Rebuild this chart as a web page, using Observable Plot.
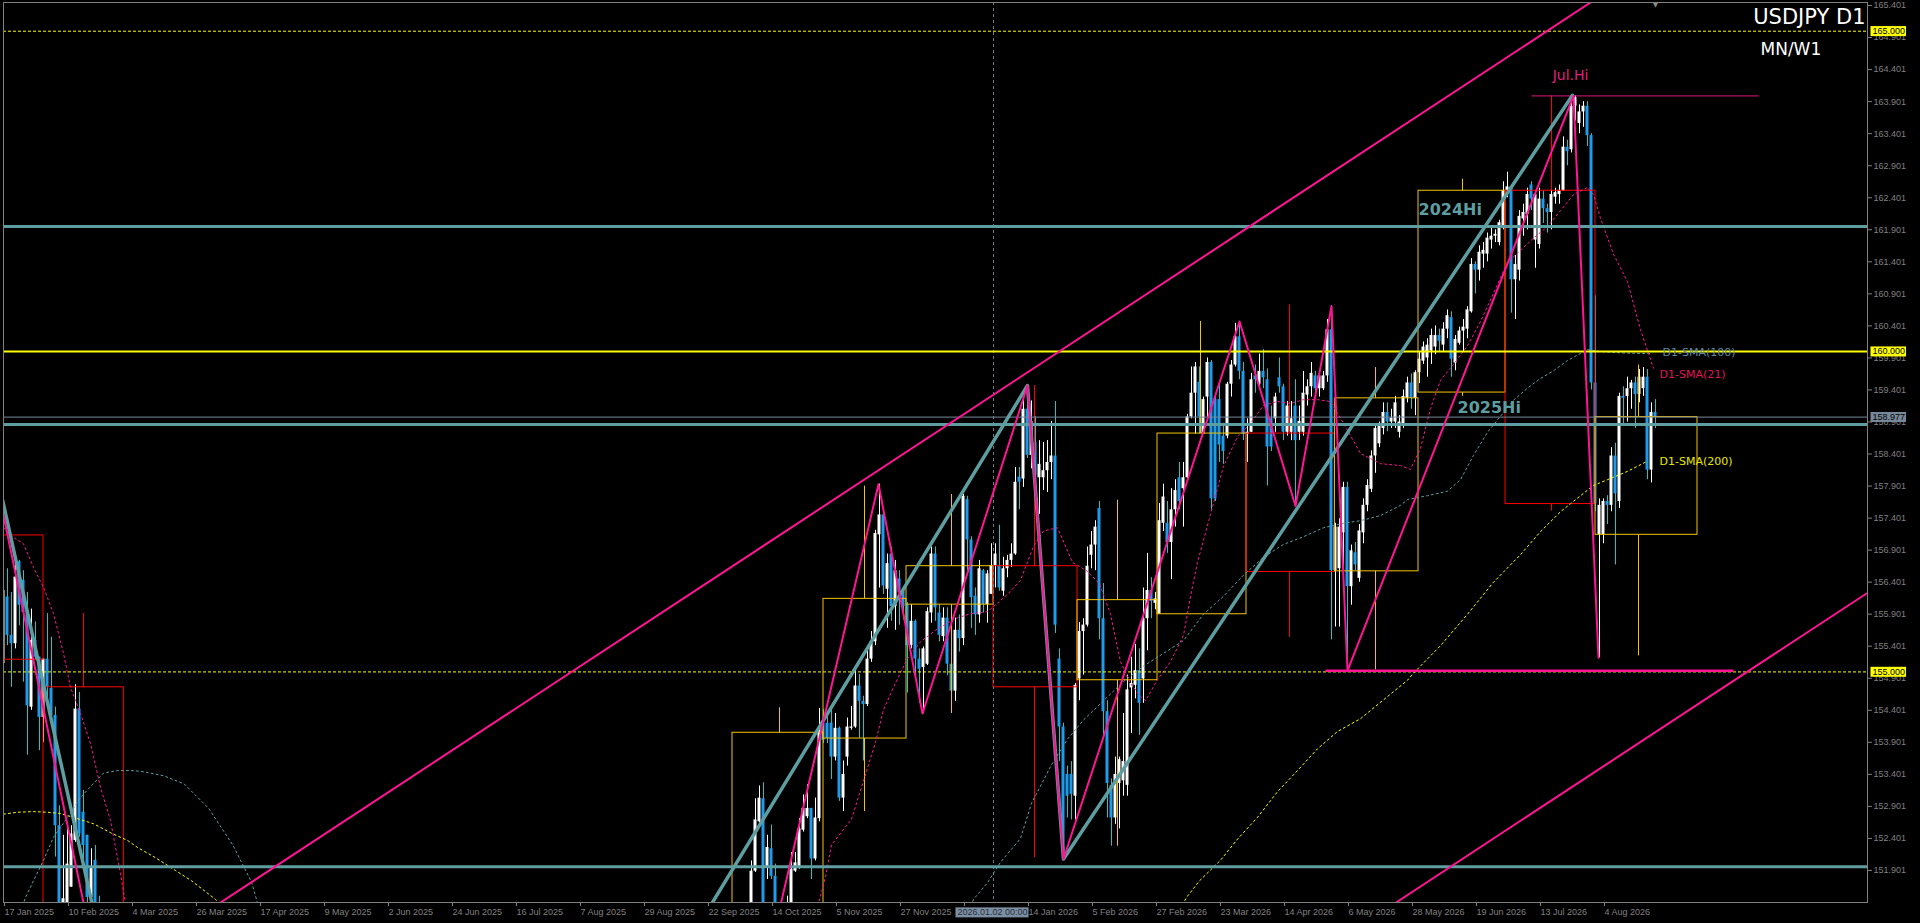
<!DOCTYPE html>
<html>
<head>
<meta charset="utf-8">
<script src="https://cdn.jsdelivr.net/npm/d3@7"></script>
<script src="https://cdn.jsdelivr.net/npm/@observablehq/plot@0.6"></script>
<style>
  html, body { margin: 0; padding: 0; background: #000; overflow: hidden; }
</style>
</head>
<body>
<script>
// ---------------- DATA ----------------
// x = trading-day index (0 = 17 Jan 2025)
const dateTickIdx = [0,16,32,48,64,80,96,112,128,144,160,176,192,208,224,240,256,272,288,304,320,336,352,368,384,400];
const dateTickLabels = ["17 Jan 2025","10 Feb 2025","4 Mar 2025","26 Mar 2025","17 Apr 2025","9 May 2025","2 Jun 2025","24 Jun 2025","16 Jul 2025","7 Aug 2025","29 Aug 2025","22 Sep 2025","14 Oct 2025","5 Nov 2025","27 Nov 2025","19 Dec 2025","14 Jan 2026","5 Feb 2026","27 Feb 2026","23 Mar 2026","14 Apr 2026","6 May 2026","28 May 2026","19 Jun 2026","13 Jul 2026","4 Aug 2026"];
const priceTicks = [151.901,152.401,152.901,153.401,153.901,154.401,154.901,155.401,155.901,156.401,156.901,157.401,157.901,158.401,158.901,159.401,159.901,160.401,160.901,161.401,161.901,162.401,162.901,163.401,163.901,164.401,164.901,165.401];

// Segment A: bars 0..24 (Jan-Feb 2025)
const startA = 0;
const openA  = [155.13,156.17,155.57,155.44,156.72,156.43,155.96,154.45,155.49,155.23,154.29,155.20,154.74,154.32,152.60,151.00,151.40,151.64,152.37,154.42,152.81,152.45,151.48,152.06,151.40];
const highA  = [156.30,156.61,156.24,156.74,156.74,156.58,156.24,155.98,155.78,155.23,155.20,155.91,155.54,154.45,152.91,152.45,152.55,152.60,154.80,154.68,153.15,152.45,152.24,152.29,151.50];
const lowA   = [155.10,155.41,154.76,155.36,155.72,154.84,153.70,154.40,155.18,153.77,153.90,154.60,154.16,152.11,150.90,150.90,151.30,151.64,152.34,152.42,152.00,151.40,151.40,151.20,150.80];
const closeA = [156.27,155.57,155.44,156.48,156.04,155.93,154.47,155.49,155.23,154.29,155.20,154.76,154.32,152.60,151.20,151.46,152.00,152.47,154.42,152.47,152.29,151.48,151.93,151.30,151.00];

// Segment B: bars 187..413 (Oct 2025 - Aug 2026)
const startB = 187;
const openB = [
151.30,151.89,152.66,153.02,151.95,152.24,151.81,151.00,150.70,151.10,
151.30,151.89,151.95,152.53,152.74,152.87,152.08,152.71,154.20,154.20,
154.20,153.67,154.12,153.03,153.67,154.12,154.14,154.78,154.54,154.49,
155.20,155.47,157.14,157.45,156.29,156.84,156.02,156.45,156.26,156.05,
155.41,155.79,155.20,155.07,155.12,155.92,156.84,155.92,155.55,155.84,
155.12,154.70,155.65,155.52,157.69,157.06,156.18,155.89,156.58,156.05,
156.21,156.66,156.66,156.26,156.61,156.74,156.84,158.04,158.01,159.10,
158.38,158.58,158.03,158.03,158.14,158.27,158.37,155.20,154.14,153.40,
153.40,153.06,154.89,155.63,155.73,156.82,156.98,157.55,155.83,154.38,
153.23,152.72,153.26,153.30,153.23,154.75,154.79,155.02,154.89,155.83,
156.27,156.07,155.90,157.32,157.32,157.02,157.53,158.03,157.86,158.03,
158.98,159.35,159.52,158.71,159.29,159.83,159.25,159.25,158.68,158.68,
159.49,159.79,160.23,159.69,158.71,158.74,159.62,159.49,159.69,159.56,
158.95,158.95,159.59,159.45,158.74,158.74,159.15,158.74,158.74,159.32,
159.45,159.62,159.42,159.42,159.62,160.34,156.58,156.61,157.17,157.88,
156.33,156.86,156.46,157.17,157.60,157.85,158.37,158.56,158.80,159.05,
158.90,158.90,158.74,158.86,159.27,159.51,159.27,159.67,159.85,159.90,
160.01,160.07,160.25,160.10,160.35,160.53,159.82,160.13,160.32,160.35,
160.62,161.36,161.27,161.52,161.52,161.74,161.80,161.70,161.95,162.51,
162.57,161.12,161.27,162.07,162.14,162.60,161.74,161.67,162.38,162.23,
162.17,162.41,162.45,162.51,163.19,163.15,163.83,163.56,163.74,163.83,
163.37,159.51,157.14,157.14,157.66,157.60,158.37,157.66,159.30,159.30,
159.42,159.51,159.33,159.42,159.60,158.15,159.05];
const highB = [
152.05,153.02,153.22,153.27,152.45,152.61,152.00,151.20,151.30,151.50,
152.18,152.18,152.71,153.08,153.24,152.87,153.03,154.43,154.41,154.35,
154.41,154.35,154.14,153.61,154.28,154.46,155.04,154.96,154.62,155.36,
155.63,157.21,157.93,157.53,156.84,156.95,156.74,156.58,156.31,156.08,
156.05,155.81,155.36,155.39,156.00,156.95,156.95,156.05,156.00,156.00,
155.36,155.84,155.89,157.77,157.74,157.11,156.31,156.74,156.60,156.58,
157.00,157.00,157.29,156.79,156.82,157.00,158.19,158.19,159.25,159.47,
159.23,158.98,158.61,158.58,158.61,158.91,159.22,155.36,154.20,153.53,
153.60,154.82,155.77,155.83,156.95,157.19,157.36,157.66,156.38,154.55,
153.33,153.67,153.67,154.35,154.95,155.23,155.43,155.36,156.31,156.85,
156.47,156.24,157.63,157.93,157.66,157.86,158.00,158.27,158.27,159.02,
159.76,159.83,159.76,159.29,159.90,159.86,159.35,159.49,158.88,159.52,
159.86,160.44,160.47,159.83,158.95,159.66,159.79,159.96,160.03,159.73,
159.15,159.35,159.90,159.49,159.22,159.22,159.56,159.15,159.69,159.56,
159.83,159.69,159.69,159.69,160.50,160.71,157.32,157.39,157.96,157.96,
156.98,157.02,157.30,157.70,158.00,158.45,158.85,158.90,159.20,159.20,
159.10,159.30,159.00,159.40,159.60,159.65,159.70,160.00,160.15,160.20,
160.35,160.40,160.35,160.45,160.65,160.62,160.25,160.38,160.50,160.70,
161.45,161.40,161.65,161.70,161.85,161.95,161.90,162.05,162.65,162.80,
162.60,161.50,162.20,162.30,162.55,162.65,162.50,162.55,162.50,162.30,
162.60,162.55,162.60,163.35,163.30,163.96,163.99,163.85,163.90,163.90,
163.40,160.87,157.70,157.70,157.75,158.50,158.57,159.35,159.45,159.60,
159.55,159.60,159.72,159.75,159.72,159.20,159.25];
const lowB = [
151.20,151.87,152.58,151.00,151.76,151.76,150.80,150.40,150.50,150.90,
151.20,151.87,151.92,152.50,152.71,151.76,152.05,152.66,153.88,153.88,
153.32,153.61,152.98,152.82,153.53,154.09,154.12,153.96,153.61,154.46,
155.15,155.41,156.31,156.21,155.68,155.79,155.65,155.73,155.81,154.67,
155.36,154.94,154.51,154.35,155.10,155.76,155.79,155.47,155.47,154.94,
154.38,154.54,155.31,155.41,156.58,155.68,155.57,155.76,155.92,155.76,
156.21,156.31,156.26,156.18,156.47,156.63,156.82,157.53,157.88,158.33,
158.17,157.93,157.46,157.83,157.80,158.00,155.60,153.60,152.08,152.72,
152.69,152.69,154.55,154.95,155.70,156.61,156.58,155.50,154.01,152.72,
152.28,152.62,152.55,153.06,153.06,154.04,154.58,154.01,154.51,155.33,
155.83,155.97,155.90,157.19,156.85,156.44,157.26,157.53,157.26,158.00,
158.95,158.71,158.71,158.71,158.95,157.53,157.66,158.27,158.24,158.64,
159.29,159.76,159.56,158.61,158.27,158.74,159.35,159.42,159.42,157.90,
158.44,158.74,159.35,158.61,158.68,158.61,157.59,158.61,158.68,159.15,
159.29,159.29,159.29,159.39,159.52,155.50,155.70,155.70,156.31,155.02,
156.04,156.58,156.40,157.00,157.50,157.80,158.10,158.50,158.70,158.75,
158.80,158.80,158.65,158.80,159.20,159.10,159.00,159.50,159.80,159.60,
159.80,159.95,160.00,160.00,160.20,159.60,159.70,160.10,160.00,160.20,
160.60,160.90,161.10,161.30,161.40,161.60,161.70,161.65,161.90,162.40,
160.60,160.50,161.10,161.80,161.90,162.20,161.30,161.60,162.00,161.85,
161.90,162.30,162.30,162.50,162.90,163.10,163.60,163.40,163.50,163.20,
159.40,157.50,155.22,157.00,157.30,157.50,156.67,157.55,158.85,158.90,
159.10,158.80,159.20,159.30,158.00,157.95,158.80];
const closeB = [
151.89,152.69,153.03,151.20,152.26,151.81,151.00,150.70,151.10,151.30,
151.92,152.02,152.55,152.87,152.87,152.08,152.72,154.12,153.93,153.96,
153.67,154.12,153.03,153.40,154.14,154.14,154.78,154.54,154.49,155.20,
155.47,157.16,157.45,156.34,156.69,156.02,156.58,156.24,156.02,155.41,
155.79,155.20,155.04,155.36,155.94,156.84,156.00,155.57,155.84,155.12,
154.70,155.65,155.52,157.74,157.06,156.16,155.89,156.61,156.05,156.53,
156.66,156.84,156.31,156.61,156.74,156.84,157.96,157.96,159.10,158.38,
158.91,158.07,158.24,158.14,158.27,158.37,155.73,154.14,152.20,153.06,
153.09,154.79,155.63,155.73,156.65,156.98,157.26,155.83,154.38,153.26,
152.72,153.40,153.63,153.60,154.72,154.82,155.02,154.51,155.83,156.27,
156.10,156.14,157.36,157.73,157.02,157.53,157.83,157.66,158.03,158.98,
159.35,159.76,158.98,159.25,159.83,157.70,157.70,158.54,158.44,159.49,
159.79,160.23,159.69,158.71,158.74,159.56,159.56,159.69,159.59,158.51,
158.51,159.29,159.45,158.74,159.15,158.95,158.61,158.91,159.35,159.45,
159.66,159.42,159.62,159.62,160.34,156.58,157.26,157.26,157.88,156.33,
156.89,156.67,157.20,157.60,157.91,158.37,158.80,158.83,159.05,158.90,
158.96,159.20,158.90,159.30,159.51,159.27,159.67,159.88,160.07,160.10,
160.25,160.25,160.16,160.35,160.56,159.88,160.19,160.32,160.38,160.65,
161.36,161.27,161.55,161.58,161.77,161.80,161.83,162.01,162.51,162.57,
161.12,161.36,162.11,162.17,162.45,162.38,162.45,162.38,162.23,162.17,
162.45,162.48,162.51,163.19,163.12,163.83,163.96,163.74,163.83,163.37,
159.51,157.63,157.60,157.66,157.60,158.37,157.78,159.30,159.27,159.42,
159.51,159.33,159.60,159.60,158.15,159.05,158.977];

// Monthly candles (MN overlay boxes)
const monthStart = [-12, 10, 182.25, 205, 225.75, 247.5, 268.5, 288.5, 310.75, 332.85, 353.75, 375.5, 398];
const monthEnd   = [10, 30.08, 205, 225.75, 247.5, 268.5, 288.5, 310.75, 332.85, 353.75, 375.5, 398, 423.5];
const monthWick  = [-1, 20, 194, 215.25, 237, 257.75, 278.5, 299.25, 321.5, 343, 364.75, 387, 408.75];
const monthOpen  = [157.13, 154.76, 147.90, 153.96, 156.05, 156.65, 154.87, 155.90, 158.72, 156.57, 159.36, 162.51, 157.14];
const monthClose = [155.19, 150.60, 154.05, 156.14, 156.65, 154.76, 156.12, 158.72, 156.56, 159.27, 162.51, 157.62, 158.977];
const monthHigh  = [158.87, 155.91, 154.44, 157.90, 157.77, 159.47, 157.68, 160.47, 160.73, 159.75, 162.69, 163.99, 159.79];
const monthLow   = [154.80, 149.30, 146.60, 152.82, 154.35, 152.10, 152.28, 155.90, 155.54, 155.03, 159.30, 157.51, 155.25];

// Moving averages [bar index, price]
const sma21A = [[0,157.25],[2.5,157.10],[5,157.00],[7.5,156.63],[10,156.32],[12.5,155.91],[15,155.29],[16.75,154.76],[19.25,154.35],[21.75,153.88],[24.25,153.20],[26.75,152.68],[29.25,151.85],[31,151.2]];
const sma21B = [[203,151.2],[205.5,151.8],[207,152.3],[209.5,152.5],[212,152.7],[214,153.1],[216,153.5],[218,153.9],[220,154.41],[222.5,154.76],[226,155.21],[229.25,155.47],[233,155.65],[237.5,155.82],[241.75,155.91],[246,155.94],[251,156.21],[254.25,156.43],[257.5,156.96],[260,157.2],[263.5,157.25],[267.25,156.71],[270.75,156.58],[274,156.38],[276.75,155.90],[279.25,155.16],[281.75,154.82],[284.25,154.62],[285.5,154.55],[288.5,154.88],[291.75,155.16],[295,155.57],[296.75,156.18],[298.5,156.71],[301.75,157.46],[305,158.21],[308.5,158.67],[311.75,158.88],[315,159.16],[318.5,159.22],[321.75,159.19],[325,159.25],[328.5,159.25],[331.75,159.22],[335,158.88],[339.25,158.41],[344.25,158.25],[349.25,158.22],[351.75,158.16],[354.25,158.49],[356.75,159.11],[359.25,159.55],[362.5,159.80],[366,160.09],[369.25,160.47],[372.5,160.91],[376,161.39],[379.25,161.58],[382.5,161.77],[386,161.95],[389.25,162.20],[392.5,162.45],[396,162.56],[397.5,162.45],[399.25,162.08],[402.5,161.52],[406,161.09],[409.25,160.34],[412.5,159.74]];
const sma100A = [[4,151.2],[5.5,151.48],[7.5,151.74],[10,152.06],[12.5,152.42],[16,152.73],[19.25,153.04],[22.5,153.26],[25,153.42],[28.5,153.46],[31.75,153.46],[34.25,153.45],[40,153.38],[45.2,153.25],[51.3,152.87],[57.4,152.29],[62,151.72],[65,151.07]];
const sma100B = [[241,151.2],[242.5,151.45],[246,151.71],[249.25,152.03],[254.25,152.40],[257,152.95],[262,153.55],[266,153.95],[270,154.25],[275,154.55],[280,154.85],[285,155.09],[290,155.29],[295,155.49],[300,155.90],[305,156.18],[310,156.51],[315,156.79],[320,156.99],[325,157.11],[330,157.25],[335,157.32],[339.25,157.36],[344.25,157.44],[349.25,157.60],[351,157.69],[356,157.75],[361,157.82],[364.25,158.00],[367.5,158.38],[371,158.74],[374.25,158.99],[377.5,159.24],[381,159.43],[384.25,159.58],[387.5,159.70],[391,159.86],[394.25,159.97],[396,160.03],[399.25,160.00],[404.25,159.98],[409.25,159.97],[411.75,159.97]];
const sma200A = [[0,152.78],[3.5,152.81],[7.5,152.82],[11,152.81],[14.25,152.79],[18.5,152.71],[22.5,152.63],[26.75,152.49],[31,152.37],[33.5,152.26],[38,152.10],[43,151.90],[47,151.74],[53,151.45],[55,151.30]];
const sma200B = [[294,151.3],[296,151.5],[299,151.74],[304.25,152.06],[308.5,152.39],[313.5,152.73],[318.5,153.13],[323.5,153.46],[328.5,153.80],[333.5,154.07],[339.25,154.27],[351,154.87],[352.5,154.98],[359.25,155.41],[366,155.90],[372.5,156.40],[379.25,156.83],[384.25,157.19],[389.25,157.50],[394.25,157.75],[397.5,157.91],[401,158.00],[406,158.13],[411,158.29]];
const smaNames = ["D1-SMA(100)", "D1-SMA(21)", "D1-SMA(200)"];

// Trendlines / zigzags [bar index, price]
const channelUpper = [[54.25,151.401],[396.75,165.448]];
const channelLower = [[348.15,151.401],[465.75,156.224]];
const tealZigLeft  = [[-3,158.46],[24,150.86]];
const pinkZigLeft  = [[-3,158.35],[24,150.19]];
const tealZig = [[174,151.07],[256,159.47],[265,152.08],[392.25,164.00]];
const pinkZig = [[191.5,150.62],[218.75,157.93],[229.75,154.35],[256,159.47],[265,152.08],[309,160.47],[323,157.59],[332,160.71],[336,155.02],[392.5,163.99],[398.75,155.22]];

// Horizontal levels
const yellowLevels = [165.000, 160.000, 155.000];
const yellowDashed = [true, false, true];
const tealLevels = [161.95, 158.86, 151.96];
const currentPrice = 158.977;
const supportLine = {i1: 330.5, i2: 432.5, p: 155.02};
const julHi = {i1: 382, i2: 438.75, p: 163.99, label: "Jul.Hi", li: 391.75};
const hiLabels = [{t: "2024Hi", i: 353.75, p: 161.95}, {t: "2025Hi", i: 363.5, p: 158.86}];
const separatorIdx = 247.5;
const separatorLabel = "2026.01.02 00:00";
const lastBar = 413;

// ---------------- BUILD ----------------
const bars = [];
function addSeg(start, O, H, L, C) {
  for (let k = 0; k < O.length; k++) bars.push({i: start + k, o: O[k], h: H[k], l: L[k], c: C[k]});
}
addSeg(startA, openA, highA, lowA, closeA);
addSeg(startB, openB, highB, lowB, closeB);
const minBody = 0.016;
bars.forEach(d => {
  let lo = Math.min(d.o, d.c), hi = Math.max(d.o, d.c);
  if (hi - lo < minBody) { const m = (hi + lo) / 2; lo = m - minBody / 2; hi = m + minBody / 2; }
  d.b1 = lo; d.b2 = hi; d.bull = d.c >= d.o;
});

const months = monthStart.map((s, k) => ({
  x1: s, x2: monthEnd[k], w: monthWick[k], o: monthOpen[k], c: monthClose[k], h: monthHigh[k], l: monthLow[k],
  col: monthClose[k] >= monthOpen[k] ? "#F5C400" : "#FF0000"
}));

const toPts = arr => arr.map(([i, p]) => ({i, p}));
// the date label hidden under the separator's time label is not printed
const labelMap = new Map(dateTickIdx.map((d, k) => [d, Math.abs(d - separatorIdx) < 8 ? "" : dateTickLabels[k]]));

const BULL = "#FFFFFF", BEAR = "#1E9CEB", BEARWICK = "#12CCCC";
const TEAL = "#5F9EA0", PINK = "#FF1493", GREY = "#808080";

const last = a => a[a.length - 1];
const smaLabel100 = [{n: smaNames[0], i: last(sma100B)[0], p: last(sma100B)[1]}];
const smaLabel21  = [{n: smaNames[1], i: last(sma21B)[0],  p: last(sma21B)[1]}];
const smaLabel200 = [{n: smaNames[2], i: last(sma200B)[0], p: last(sma200B)[1]}];

const priceBoxes = [
  {v: 165.000, bg: "#FFFF00"},
  {v: 160.000, bg: "#FFFF00"},
  {v: 155.000, bg: "#FFFF00"},
  {v: currentPrice, bg: "#778899"}
];
const fmt3 = d3.format(".3f");

const chart = Plot.plot({
  width: 1920,
  height: 923,
  marginLeft: 3,
  marginRight: 53,
  marginTop: 2,
  marginBottom: 21,
  x: {domain: [0, 466]},
  y: {domain: [151.401, 165.448]},
  style: {background: "#000", color: GREY, fontFamily: "Liberation Sans, Arial, sans-serif", fontSize: "9px"},
  marks: [
    // candles
    Plot.ruleX(bars, {x: "i", y1: "l", y2: "h", stroke: d => d.bull ? BULL : BEARWICK, strokeWidth: 1, clip: true}),
    Plot.rect(bars, {x1: d => d.i - 0.375, x2: d => d.i + 0.375, y1: "b1", y2: "b2", fill: d => d.bull ? BULL : BEAR, clip: true}),

    // monthly boxes
    Plot.rect(months, {x1: "x1", x2: "x2", y1: "o", y2: "c", fill: "none", stroke: "col", strokeWidth: 1, clip: true}),
    Plot.ruleX(months, {x: "w", y1: d => Math.max(d.o, d.c), y2: "h", stroke: "col", strokeWidth: 1, clip: true}),
    Plot.ruleX(months, {x: "w", y1: d => Math.min(d.o, d.c), y2: "l", stroke: "col", strokeWidth: 1, clip: true}),

    // separator
    Plot.ruleX([separatorIdx], {stroke: "#6f7a86", strokeDasharray: "3,3", strokeWidth: 1}),

    // moving averages
    Plot.line(toPts(sma200A), {x: "i", y: "p", stroke: "#FFFF00", strokeWidth: 1, strokeDasharray: "2,3", clip: true}),
    Plot.line(toPts(sma200B), {x: "i", y: "p", stroke: "#FFFF00", strokeWidth: 1, strokeDasharray: "2,3", clip: true}),
    Plot.line(toPts(sma100A), {x: "i", y: "p", stroke: TEAL, strokeWidth: 1, strokeDasharray: "2,3", clip: true}),
    Plot.line(toPts(sma100B), {x: "i", y: "p", stroke: TEAL, strokeWidth: 1, strokeDasharray: "2,3", clip: true}),
    Plot.line(toPts(sma21A), {x: "i", y: "p", stroke: PINK, strokeWidth: 1, strokeDasharray: "2,3", clip: true}),
    Plot.line(toPts(sma21B), {x: "i", y: "p", stroke: PINK, strokeWidth: 1, strokeDasharray: "2,3", clip: true}),

    // horizontal levels
    Plot.ruleY(tealLevels, {stroke: TEAL, strokeWidth: 3}),
    Plot.ruleY([currentPrice], {stroke: "#778899", strokeWidth: 1}),
    Plot.ruleY(yellowLevels.filter((v, k) => !yellowDashed[k]), {stroke: "#FFFF00", strokeWidth: 2}),
    Plot.ruleY(yellowLevels.filter((v, k) => yellowDashed[k]), {stroke: "#FFFF00", strokeWidth: 1, strokeDasharray: "3,2"}),
    Plot.link([supportLine], {x1: "i1", x2: "i2", y1: "p", y2: "p", stroke: PINK, strokeWidth: 2.5, clip: true}),
    Plot.link([julHi], {x1: "i1", x2: "i2", y1: "p", y2: "p", stroke: "#E0187A", strokeWidth: 1, clip: true}),

    // trendlines & zigzags
    Plot.line(toPts(channelUpper), {x: "i", y: "p", stroke: PINK, strokeWidth: 2, clip: true}),
    Plot.line(toPts(channelLower), {x: "i", y: "p", stroke: PINK, strokeWidth: 2, clip: true}),
    Plot.line(toPts(tealZigLeft), {x: "i", y: "p", stroke: TEAL, strokeWidth: 3.5, clip: true}),
    Plot.line(toPts(tealZig), {x: "i", y: "p", stroke: TEAL, strokeWidth: 3.5, clip: true}),
    Plot.line(toPts(pinkZigLeft), {x: "i", y: "p", stroke: PINK, strokeWidth: 2, clip: true}),
    Plot.line(toPts(pinkZig), {x: "i", y: "p", stroke: PINK, strokeWidth: 2, clip: true}),

    // texts on chart
    Plot.text(hiLabels, {x: "i", y: "p", text: "t", textAnchor: "start", dy: -17, fill: TEAL, fontSize: 16, fontWeight: "bold", fontFamily: "DejaVu Sans"}),
    Plot.text([julHi], {x: "li", y: "p", text: "label", textAnchor: "middle", dy: -20, fill: "#E0207A", fontSize: 14, fontFamily: "DejaVu Sans"}),
    Plot.text(smaLabel100, {x: "i", y: "p", text: "n", textAnchor: "start", dx: 12, dy: -1, fill: "#5A8CA6", fontSize: 11, fontFamily: "DejaVu Sans"}),
    Plot.text(smaLabel21,  {x: "i", y: "p", text: "n", textAnchor: "start", dx: 6, dy: 6, fill: "#E0145A", fontSize: 11, fontFamily: "DejaVu Sans"}),
    Plot.text(smaLabel200, {x: "i", y: "p", text: "n", textAnchor: "start", dx: 12, dy: 0, fill: "#E8E800", fontSize: 11, fontFamily: "DejaVu Sans"}),
    Plot.text(["USDJPY D1"], {frameAnchor: "top-right", textAnchor: "end", lineAnchor: "top", dx: -2, dy: 7, fill: "#FFFFFF", fontSize: 21, fontFamily: "DejaVu Sans"}),
    Plot.text(["MN/W1"], {frameAnchor: "top-right", textAnchor: "start", lineAnchor: "top", dx: -107, dy: 40, fill: "#FFFFFF", fontSize: 17, fontFamily: "DejaVu Sans"}),
    Plot.text([lastBar], {x: d => d, frameAnchor: "top", lineAnchor: "top", text: () => "\u25BC", dy: 0, fill: "#8a8a8a", fontSize: 7, fontFamily: "DejaVu Sans"}),

    // frame & axes
    Plot.frame({stroke: GREY, strokeWidth: 1}),
    Plot.axisY(priceTicks, {anchor: "right", tickSize: 4, tickPadding: 2, tickFormat: fmt3, fontSize: 9, label: null}),
    Plot.axisX(dateTickIdx, {anchor: "bottom", tickSize: 4, tickPadding: 2, textAnchor: "start", dx: 1, tickFormat: d => labelMap.get(d), fontSize: 9, label: null}),

    // price label boxes on the right axis
    Plot.text(priceBoxes, {x: () => 466, y: "v", text: d => fmt3(d.v), textAnchor: "start", dx: 5, fill: "#000", fontSize: 9}),
    // separator date label
    Plot.text([separatorLabel], {x: () => separatorIdx, frameAnchor: "bottom", lineAnchor: "middle", dy: 10, dx: -1, textAnchor: "middle", fill: "#26303c", fontSize: 9})
  ]
});

document.body.appendChild(chart);

// background boxes behind the axis value labels
const boxColors = new Map(priceBoxes.map(d => [fmt3(d.v), d.bg]));
boxColors.set(separatorLabel, "#7D8FA3");
chart.querySelectorAll("text").forEach(t => {
  const s = t.textContent;
  if (!boxColors.has(s) || t.children.length) return;
  const b = t.getBBox();
  const r = document.createElementNS("http://www.w3.org/2000/svg", "rect");
  r.setAttribute("x", b.x - 2);
  r.setAttribute("y", b.y);
  r.setAttribute("width", b.width + 3);
  r.setAttribute("height", b.height);
  r.setAttribute("fill", boxColors.get(s));
  const tr = t.getAttribute("transform");
  if (tr) r.setAttribute("transform", tr);
  t.parentNode.insertBefore(r, t);
});
</script>
</body>
</html>
